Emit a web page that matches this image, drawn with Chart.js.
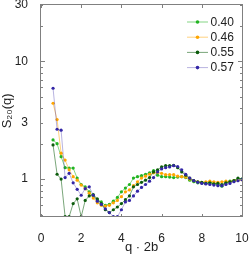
<!doctype html>
<html>
<head>
  <meta charset="utf-8">
  <title>S20(q)</title>
  <style>
    html, body { margin:0; padding:0; background:#fff; }
    #wrap { position:relative; width:249px; height:255px; }
    #frame { position:absolute; left:40px; top:4px; width:203px; height:213px;
             box-sizing:border-box; border:1px solid #808080; pointer-events:none; }
  </style>
  <script src="https://cdn.jsdelivr.net/npm/chart.js"></script>
</head>
<body>
  <div id="wrap">
    <canvas id="sq" width="249" height="255"></canvas>
    <div id="frame"></div>
  </div>

  <script>
    // q * 2b grid
    const q = [0.6, 0.8, 1.0, 1.2, 1.4, 1.6, 1.8, 2.0, 2.2, 2.4, 2.6, 2.8, 3.0, 3.2, 3.4, 3.6,
               3.8, 4.0, 4.2, 4.4, 4.6, 4.8, 5.0, 5.2, 5.4, 5.6, 5.8, 6.0, 6.2, 6.4, 6.6, 6.8,
               7.0, 7.2, 7.4, 7.6, 7.8, 8.0, 8.2, 8.4, 8.6, 8.8, 9.0, 9.2, 9.4, 9.6, 9.8, 10.0];

    const labels = ['0.40', '0.46', '0.55', '0.57'];

    const s040 = [2.15, 2.0, 1.55, 1.25, 1.24, 1.24, 1.02, 0.9, 0.86, 0.78,
                  0.72, 0.67, 0.64, 0.6, 0.61, 0.65, 0.7, 0.78, 0.84, 0.9,
                  1.02, 1.05, 1.07, 1.1, 1.13, 1.18, 1.08, 1.05, 1.05, 1.04,
                  1.03, 1.04, 1.05, 1.03, 0.98, 0.95, 0.93, 0.93, 0.92, 0.94,
                  0.92, 0.9, 0.87, 0.93, 0.96, 0.97, 1.0, 1.0];
    const s046 = [4.4, 3.2, 1.66, 1.45, 1.2, 1.05, 0.98, 0.89, 0.83, 0.76,
                  0.69, 0.63, 0.6, 0.59, 0.6, 0.63, 0.66, 0.71, 0.78, 0.81,
                  0.88, 0.95, 1.02, 1.06, 1.1, 1.13, 1.14, 1.12, 1.09, 1.09,
                  1.09, 1.06, 1.05, 1.04, 1.0, 0.97, 0.95, 0.94, 0.95, 0.96,
                  0.95, 0.94, 0.95, 0.96, 0.95, 0.97, 0.98, 0.99];
    const s055 = [1.95, 1.1, 1.0, 0.48, 0.48, 0.62, 0.68, 0.48, 0.66, 0.72,
                  0.74, 0.68, 0.62, 0.55, 0.52, 0.55, 0.58, 0.62, 0.67, 0.72,
                  0.86, 0.9, 0.94, 0.98, 1.03, 1.15, 1.2, 1.27, 1.3, 1.3,
                  1.31, 1.25, 1.15, 1.08, 1.02, 0.97, 0.95, 0.94, 0.92, 0.93,
                  0.91, 0.92, 0.9, 0.93, 0.95, 0.97, 1.02, 1.0];
    const s057 = [5.9, 2.65, 2.6, 1.03, 1.12, 0.93, 0.82, 0.73, 0.83, 0.86,
                  0.73, 0.65, 0.61, 0.56, 0.52, 0.48, 0.48, 0.55, 0.64, 0.66,
                  0.72, 0.79, 0.85, 0.9, 0.96, 1.03, 1.15, 1.22, 1.25, 1.27,
                  1.3, 1.28, 1.2, 1.1, 1.02, 0.97, 0.94, 0.92, 0.91, 0.9,
                  0.89, 0.88, 0.88, 0.9, 0.92, 0.95, 0.97, 0.99];

    const xTicks = [0, 2, 4, 6, 8, 10];
    const yTicks = [1, 3, 10, 30];
    const yMarks = [0.5, 0.6, 0.7, 0.8, 0.9, 1, 2, 3, 4, 5, 6, 7, 8, 9, 10, 20, 30];

    const FONT = '"Liberation Sans", Arial, "DejaVu Sans", sans-serif';
    const AXIS = '#7f7f7f';
    const markers = ['#22b422', '#ffa600', '#0c5c0c', '#3326a6'];
    const lines = ['rgba(34,180,34,0.55)', 'rgba(255,166,0,0.5)', 'rgba(12,92,12,0.55)', 'rgba(51,38,166,0.35)'];

    function series(vals, i) {
      return {
        label: labels[i],
        data: vals.map((v, k) => ({ x: q[k], y: v })),
        borderColor: lines[i],
        borderWidth: 1,
        pointBackgroundColor: markers[i],
        pointBorderWidth: 0,
        pointRadius: 1.6,
        tension: 0,
        order: 4 - i
      };
    }

    // inward tick marks on all four sides
    function drawTicks(chart) {
      const ctx = chart.ctx, a = chart.chartArea;
      const xs = chart.scales.x, ys = chart.scales.y;
      const T = Math.round(a.top), B = Math.round(a.bottom);
      const L = Math.round(a.left), R = Math.round(a.right);
      ctx.save();
      ctx.fillStyle = AXIS;
      xTicks.forEach(v => {
        const px = Math.round(xs.getPixelForValue(v));
        ctx.fillRect(px, B - 3, 1, 3);
        ctx.fillRect(px, T, 1, 3);
      });
      yMarks.forEach(v => {
        const py = Math.round(ys.getPixelForValue(v));
        const len = (v === 1 || v === 10) ? 4 : 2;
        ctx.fillRect(L, py, len, 1);
        ctx.fillRect(R - len, py, len, 1);
      });
      ctx.restore();
    }

    function drawLegend(chart) {
      const { ctx, chartArea: a } = chart;
      ctx.save();
      ctx.font = '12px ' + FONT;
      ctx.textBaseline = 'middle';
      chart.data.datasets.forEach((ds, i) => {
        const yy = a.top + 17 + i * 15.2;
        const x0 = a.right - 55;
        ctx.strokeStyle = ds.borderColor;
        ctx.lineWidth = 1;
        ctx.beginPath(); ctx.moveTo(x0, yy); ctx.lineTo(x0 + 21, yy); ctx.stroke();
        ctx.fillStyle = ds.pointBackgroundColor;
        ctx.beginPath(); ctx.arc(x0 + 10.5, yy, 1.8, 0, Math.PI * 2); ctx.fill();
        ctx.fillStyle = '#222';
        ctx.fillText(ds.label, x0 + 23.5, yy + 0.5);
      });
      ctx.restore();
    }

    const extras = {
      id: 'extras',
      afterDraw(chart) {
        drawTicks(chart);
        drawLegend(chart);
      }
    };

    new Chart(document.getElementById('sq'), {
      type: 'line',
      data: { datasets: [series(s040, 0), series(s046, 1), series(s055, 2), series(s057, 3)] },
      options: {
        responsive: false,
        animation: false,
        devicePixelRatio: 1,
        layout: { padding: { left: 0, top: 5, right: 7, bottom: 0 } },
        plugins: { legend: { display: false }, tooltip: { enabled: false } },
        scales: {
          x: {
            type: 'linear', min: 0, max: 10,
            afterBuildTicks: s => { s.ticks = xTicks.map(v => ({ value: v })); },
            grid: { display: false }, border: { display: false },
            ticks: { color: '#222', font: { size: 12, family: FONT }, padding: 7, maxRotation: 0, autoSkip: false },
            title: { display: true, text: 'q · 2b', color: '#222', font: { size: 13, family: FONT }, padding: 0 },
            afterFit: s => { s.height = 38.3; s.paddingLeft = 0; s.paddingRight = 0; }
          },
          y: {
            type: 'logarithmic', min: 0.48, max: 30,
            afterBuildTicks: s => { s.ticks = yTicks.map(v => ({ value: v })); },
            grid: { display: false }, border: { display: false },
            ticks: { color: '#222', font: { size: 12, family: FONT }, padding: 5, autoSkip: false, callback: v => String(v) },
            title: { display: true, text: 'S₂₀(q)', color: '#222', font: { size: 13, family: FONT }, padding: 0 },
            afterFit: s => { s.width = 41; s.paddingTop = 0; s.paddingBottom = 0; }
          }
        }
      },
      plugins: [extras]
    });
  </script>
</body>
</html>
